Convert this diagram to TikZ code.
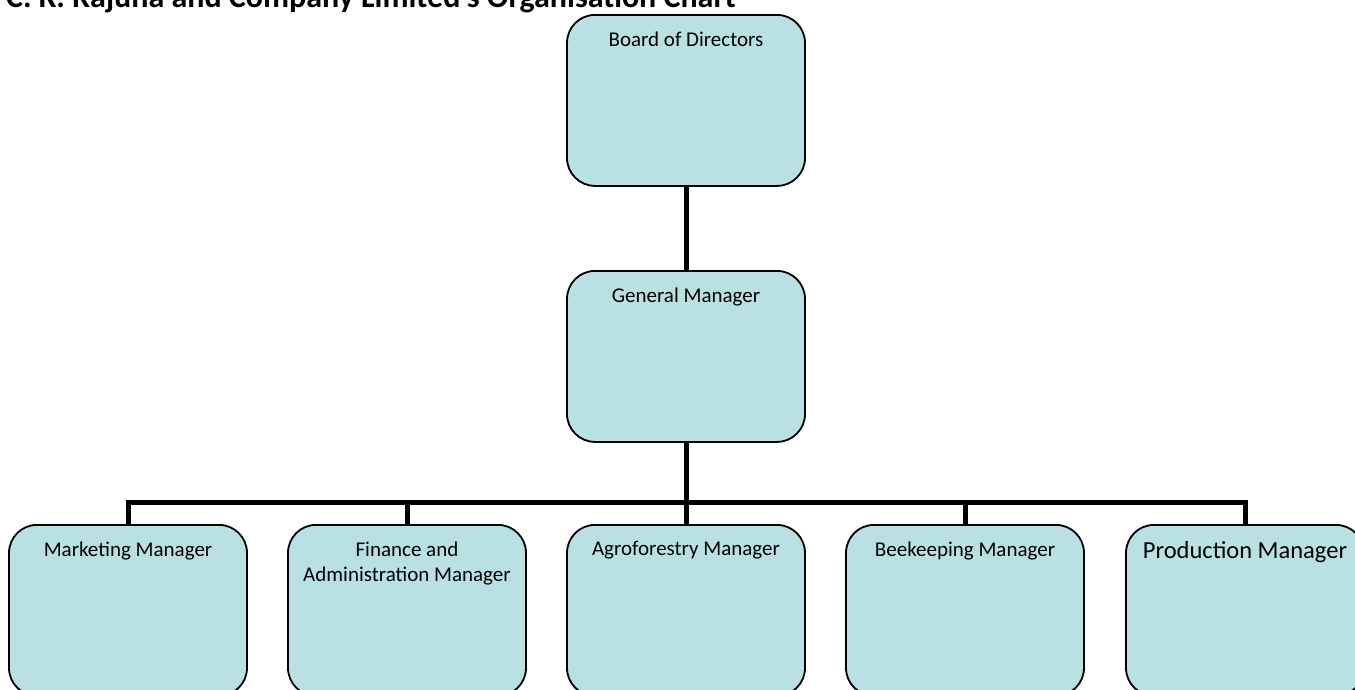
\documentclass[tikz,border=0pt]{standalone}
\usepackage{fontspec}
\setmainfont{Carlito}
\definecolor{boxfill}{RGB}{185,224,227}
\tikzset{
  post/.style={draw, fill=boxfill, line width=1.8pt, rounded corners=28pt,
    minimum width=238pt, minimum height=171pt, anchor=north},
  head/.style={anchor=north, yshift=-14pt, align=center, font=\fontsize{21}{25}\selectfont},
  link/.style={line width=5pt}
}
\begin{document}
\begin{tikzpicture}[x=1pt,y=-1pt]
  \useasboundingbox (0,0) rectangle (1355,689);
  \clip (0,0) rectangle (1355,689);
  \node[anchor=base west, inner sep=0pt, font=\bfseries\fontsize{32}{36}\selectfont] (title) at (6,7)
    {C. K. Rajuna and Company Limited's Organisation Chart};
  % top of the chart
  \node[post, label={[head]north:Board of Directors}] (board) at (686,14) {};
  \node[post, label={[head]north:General Manager}] (gm) at (686,270) {};
  % managers
  \node[post, label={[head]north:Marketing Manager}] (mkt) at (128,524) {};
  \node[post, label={[head]north:Finance and\\Administration Manager}] (fin) at (407,524) {};
  \node[post, label={[head]north:Agroforestry Manager}] (agro) at (686,524) {};
  \node[post, label={[head]north:Beekeeping Manager}] (bee) at (965,524) {};
  \node[post, label={[head, font=\fontsize{24.5}{29}\selectfont]north:Production Manager}] (prod) at (1245,524) {};
  \draw[link] (board.south) -- (gm.north);
  \foreach \c in {mkt,fin,agro,bee,prod}
    \draw[link] (gm.south) -- ++(0,60) -| (\c.north);
\end{tikzpicture}
\end{document}
